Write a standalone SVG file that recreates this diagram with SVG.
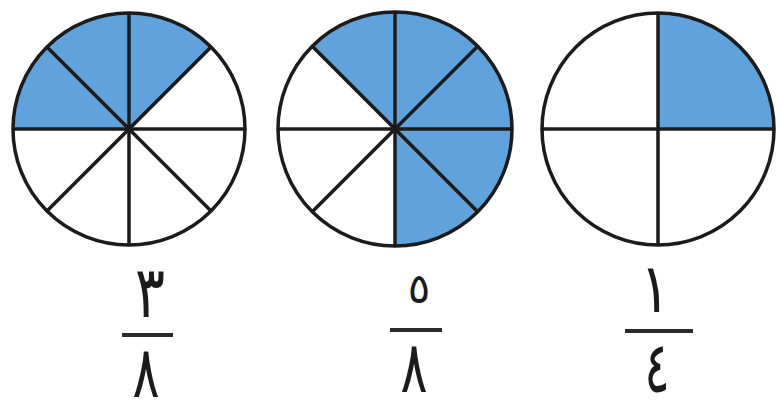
<svg xmlns="http://www.w3.org/2000/svg" width="780" height="403" viewBox="0 0 780 403">
<style>
.bg{fill:#ffffff}
.sh{fill:#5fa2dc;stroke:none}
.ln{stroke:#1b1b1b;stroke-width:3.5;fill:none;stroke-linecap:butt}
.num{font-family:"DejaVu Sans",sans-serif;font-size:56px;fill:#1b1b1b;text-anchor:middle}
.bar{stroke:#2a2a2a;stroke-width:4}
</style>
<rect class="bg" x="0" y="0" width="780" height="403"/>
<g id="circle-3-8">
<circle cx="129" cy="129" r="116" fill="#fff"/>
<path class="sh" d="M129,129 L13,129 A116,116 0 0 1 211.02,46.98 Z"/>
<line class="ln" x1="13" y1="129" x2="245" y2="129"/>
<line class="ln" x1="129" y1="13" x2="129" y2="245"/>
<line class="ln" x1="46.98" y1="46.98" x2="211.02" y2="211.02"/>
<line class="ln" x1="211.02" y1="46.98" x2="46.98" y2="211.02"/>
<circle class="ln" cx="129" cy="129" r="116"/>
<circle cx="129" cy="129" r="4" fill="#1b1b1b"/>
</g>
<g id="circle-5-8">
<circle cx="395" cy="129" r="117" fill="#fff"/>
<path class="sh" d="M395,129 L312.27,46.27 A117,117 0 1 1 395,246 Z"/>
<line class="ln" x1="278" y1="129" x2="512" y2="129"/>
<line class="ln" x1="395" y1="12" x2="395" y2="246"/>
<line class="ln" x1="312.27" y1="46.27" x2="477.73" y2="211.73"/>
<line class="ln" x1="477.73" y1="46.27" x2="312.27" y2="211.73"/>
<circle class="ln" cx="395" cy="129" r="117"/>
<circle cx="395" cy="129" r="4" fill="#1b1b1b"/>
</g>
<g id="circle-1-4">
<circle cx="658" cy="129" r="116" fill="#fff"/>
<path class="sh" d="M658,129 L658,13 A116,116 0 0 1 774,129 Z"/>
<line class="ln" x1="542" y1="129" x2="774" y2="129"/>
<line class="ln" x1="658" y1="13" x2="658" y2="245"/>
<circle class="ln" cx="658" cy="129" r="116"/>
</g>
<g id="fraction-3-8">
<text class="num" transform="translate(150,317) scale(1,1.28)">٣</text>
<line class="bar" x1="122" y1="335" x2="173" y2="335"/>
<text class="num" transform="translate(146,397) scale(0.9,1.28)">٨</text>
</g>
<g id="fraction-5-8">
<text class="num" style="font-size:42px" transform="translate(419,303)">٥</text>
<line class="bar" x1="390" y1="330" x2="442" y2="330"/>
<text class="num" transform="translate(414,392) scale(0.9,1.28)">٨</text>
</g>
<g id="fraction-1-4">
<text class="num" transform="translate(655,312) scale(1,1.22)">١</text>
<line class="bar" x1="625" y1="331" x2="693" y2="331"/>
<text class="num" transform="translate(657,392) scale(0.85,1.28)">٤</text>
</g>
</svg>
